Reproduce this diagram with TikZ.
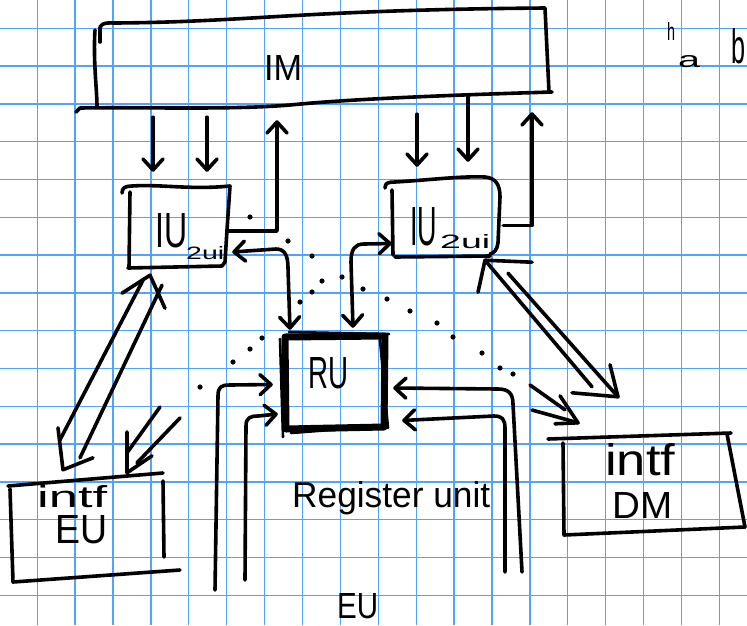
\documentclass[tikz,border=0pt]{standalone}
\usepackage{fontspec}
\setmainfont{Liberation Sans}
\usepackage{graphicx}
\usetikzlibrary{arrows.meta,calc}
\definecolor{gridblue}{RGB}{80,165,250}

% text squeezed into a given width and height (in pt)
\newcommand\handtext[3]{\resizebox{#1pt}{#2pt}{#3}}

\tikzset{
  gridline/.style={gridblue, line width=1.3pt},
  pen/.style={black, line width=3.6pt, line cap=round, line join=round},
  barb/.tip={Straight Barb[length=11pt,width=20pt,round]},
  tipped/.style={pen, -barb},
  bothtipped/.style={pen, barb-barb},
  region/.style={rectangle, draw=none, inner sep=0pt},
  lbl/.style={inner sep=0pt, anchor=base west},
  dotmark/.style={black, radius=2.6pt},
}

\begin{document}
\begin{tikzpicture}[x=1pt,y=-1pt]
\useasboundingbox (0,0) rectangle (747,625);
\fill[white] (0,0) rectangle (747,625);

% squared paper
\foreach \k in {1,...,19}
  \draw[gridline] ({-0.7+37.9*\k},0) -- ({-0.7+37.9*\k},625);
\foreach \k in {0,...,15}
  \draw[gridline] (0,{28.3+37.8*\k}) -- (747,{28.3+37.8*\k});

% unit regions
\node[region, minimum width=450pt, minimum height=80pt] (IM)  at (321,62)    {};
\node[region, minimum width=100pt, minimum height=80pt] (IU1) at (177,227)   {};
\node[region, minimum width=110pt, minimum height=77pt] (IU2) at (445,218.5) {};
\node[region, minimum width=100pt, minimum height=91pt] (RU)  at (335,382.5) {};
\node[region, minimum width=155pt, minimum height=102pt] (EUb) at (87.5,529) {};
\node[region, minimum width=185pt, minimum height=96pt] (DMb) at (647.5,484) {};

% IM outline
\draw[pen] (100,28) -- (100,42);
\draw[pen] (95,30) .. controls (93,60) and (97,90) .. (97,107);
\draw[pen] (100,27) .. controls (103,22) and (108,23) .. (115,23)
  .. controls (250,22) and (300,10) .. (545,8) -- (549,92);
\draw[pen] (552,92) .. controls (420,96) and (340,100) .. (290,105)
  .. controls (230,110) and (150,107) .. (80,108) -- (76,112);

% IU outlines
\draw[pen] (122,193) .. controls (122,188) and (125,186) .. (132,186)
  .. controls (160,184) and (190,190) .. (230,186) -- (227,230) -- (225,262)
  -- (222,266) -- (128,268);
\draw[pen] (130,192) -- (129,268);
\draw[pen] (385,188) .. controls (385,183) and (388,182) .. (395,182)
  .. controls (430,180) and (460,176) .. (485,177)
  .. controls (496,178) and (500,185) .. (500,197) -- (498,243)
  .. controls (497,250) and (494,253) .. (490,254);
\draw[pen] (392,190) -- (393,255);
\draw[pen] (395,257) -- (490,256);

% RU outline, traced over several times
\draw[black, line width=7pt, line join=round] (285,337) -- (385,336) -- (384,427) -- (286,429) -- cycle;
\draw[black, line width=2.6pt, line cap=round] (280,339) -- (283,437);
\draw[black, line width=2.6pt, line cap=round] (289,332) -- (389,334);
\draw[black, line width=2.6pt, line cap=round] (380,340) -- (388,428);
\draw[black, line width=2.6pt, line cap=round] (291,433) -- (383,426);

% interface boxes
\draw[pen] (8,486) -- (163,473);
\draw[pen] (10,489) -- (13,582) -- (180,570);
\draw[pen] (163,481) -- (164,557);
\draw[pen] (548,439) -- (731,433);
\draw[pen] (563,443) -- (564,535) -- (745,527);
\draw[pen] (727,434) -- (745,527);

% labels
\node[lbl] (IMt)   at (264,80)  {\handtext{38}{25}{IM}};
\node[lbl] (IU1t)  at (155,247) {\handtext{32}{34}{IU}};
\node[lbl] (IU1s)  at (186,259) {\handtext{38}{13}{2ui}};
\node[lbl] (IU2t)  at (410,245) {\handtext{27}{38}{IU}};
\node[lbl] (IU2s)  at (440,248) {\handtext{50}{14}{2ui}};
\node[lbl] (RUt)   at (308,388) {\handtext{40}{31}{RU}};
\node[lbl] (RegT)  at (292,507) {\handtext{198}{26}{Register unit}};
\node[lbl] (EUi)   at (37,507)  {\handtext{70}{22}{intf}};
\node[lbl] (EUt)   at (55,543)  {\handtext{52}{28}{EU}};
\node[lbl] (DMi)   at (605,475) {\handtext{70}{32}{intf}};
\node[lbl] (DMt)   at (612,518) {\handtext{60}{26}{DM}};
\node[lbl] (EUbot) at (337,618) {\handtext{41}{25}{EU}};
\node[lbl] (hmark) at (667,40)  {\handtext{8}{18}{h}};
\node[lbl] (amark) at (678,67)  {\handtext{22}{12}{a}};
\node[lbl] (bmark) at (731,63)  {\handtext{14}{35}{b}};

% IM <-> IU links
\draw[tipped] ($(IM.south)+(-168,15)$) -- ($(IU1.north)+(-24,-15)$);
\draw[tipped] ($(IM.south)+(-114,15)$) -- ($(IU1.north)+(30,-15)$);
\draw[tipped] ($(IU1.east)+(1,4)$) -| ($(IM.south)+(-44,18)$);
\draw[tipped] ($(IM.south)+(96,12)$) -- ($(IU2.north)+(-28,-13)$);
\draw[tipped] ($(IM.south)+(147,-5)$) -- ($(IU2.north)+(23,-18)$);
\draw[tipped] ($(IU2.east)+(3,7)$) -| ($(IM.south)+(211,10)$);

% IU <-> RU links
\draw[bothtipped] ($(IU1.east)+(5,25)$) -- (276,249)
  .. controls (285,249) and (288,256) .. (288,268) -- ($(RU.north)+(-45,-7)$);
\draw[bothtipped] ($(RU.north)+(18,-9)$) -- (351,262)
  .. controls (351,249) and (355,244) .. (364,244) -- ($(IU2.west)+(2,25)$);

% wide two-way arrow IU1 <-> intf EU
\coordinate (d1t) at ($(IU1.south)+(-27,8)$);
\coordinate (d1b) at ($(EUb.north)+(-24.5,-8)$);
\draw[pen] ($(d1b)+(-3,-30)$) -- ($(d1t)+(-7,5)$);
\draw[pen] ($(d1b)+(17,-12)$) -- ($(d1t)+(12,10)$);
\draw[pen] ($(d1t)+(-28,18)$) -- (d1t) -- ($(d1t)+(15,33)$);
\draw[pen] ($(d1b)+(-5,-42)$) -- (d1b) -- ($(d1b)+(30,-12)$);

% wide arrow into intf EU
\coordinate (d2t) at ($(EUb.north)+(39.5,-5)$);
\coordinate (d2a) at (160,407);
\coordinate (d2b) at (180,418);
\draw[pen] (d2a) -- ($(d2t)+(0,-20)$);
\draw[pen] (d2b) -- ($(d2t)+(10,-10)$);
\draw[pen] ($(d2t)+(0,-41)$) -- (d2t) -- ($(d2t)+(25,-17)$);

% wide two-way arrow IU2 <-> intf DM
\coordinate (e1t) at ($(IU2.south)+(40,3)$);
\coordinate (e1b) at ($(DMb.north)+(-29.5,-39)$);
\draw[pen] (e1t) -- ($(e1b)+(-26,-10)$);
\draw[pen] ($(e1t)+(23,13)$) -- (e1b);
\draw[pen] ($(e1t)+(47,2)$) -- (e1t) -- ($(e1t)+(-7,32)$);
\draw[pen] ($(e1b)+(-8,-32)$) -- (e1b) -- ($(e1b)+(-46,-4)$);

% wide arrow into intf DM
\coordinate (e2t) at ($(DMb.north)+(-69.5,-13)$);
\coordinate (e2a) at (530,385);
\coordinate (e2b) at (532,410);
\draw[pen] (e2a) -- ($(e2t)+(-13,-13)$);
\draw[pen] (e2b) -- (e2t);
\draw[pen] ($(e2t)+(-18,-27)$) -- (e2t) -- ($(e2t)+(-23,1)$);

% EU buses into RU
\coordinate (f1a) at (215,590);
\coordinate (f2a) at (245,580);
\coordinate (f3a) at (522,572);
\coordinate (f4a) at (505,572);
\draw[tipped] (f1a) -- (218,396) .. controls (218,387) and (221,385) .. (230,385)
  -- ($(RU.west)+(-12,2)$);
\draw[tipped] (f2a) -- (246,426) .. controls (246,418) and (250,416) .. (258,416)
  -- ($(RU.west)+(-7,31.5)$);
\draw[tipped] (f3a) -- (513,404) .. controls (513,393) and (508,389) .. (498,389)
  -- ($(RU.east)+(8,5.5)$);
\draw[tipped] (f4a) -- (505,428) .. controls (505,419) and (502,416) .. (494,416)
  -- ($(RU.east)+(17,38)$);

% dotted traces
\foreach \p in {(250,217),(288,241),(312,256),(342,277),(322,281),(312,292),
                (300,302),(363,289),(387,299),(410,311),(437,323),(453,337),
                (482,353),(500,368),(513,374),(262,338),(250,349),(233,362),
                (200,387)}
  \fill[dotmark] \p circle[];
\end{tikzpicture}
\end{document}
